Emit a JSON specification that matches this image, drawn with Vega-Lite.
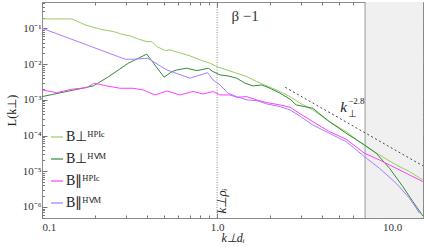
{
  "$schema": "https://vega.github.io/schema/vega-lite/v6.json",
  "width": 381,
  "height": 216,
  "autosize": {"type": "none"},
  "padding": {"left": 42, "top": 2, "right": 1, "bottom": 30},
  "config": {
    "view": {"stroke": "#8c8c8c", "strokeWidth": 1},
    "font": "Liberation Serif",
    "axis": {
      "labelFont": "Liberation Serif",
      "labelFontSize": 11,
      "labelColor": "#333",
      "titleFont": "Liberation Serif",
      "titleFontWeight": "normal",
      "titleFontSize": 12,
      "titleColor": "#222",
      "tickColor": "#777",
      "domain": false,
      "grid": false,
      "labelOverlap": false
    },
    "legend": {
      "orient": "none",
      "legendX": 8,
      "legendY": 128,
      "symbolType": "stroke",
      "symbolSize": 144,
      "symbolStrokeWidth": 1.2,
      "labelFont": "Liberation Serif",
      "labelFontSize": 14,
      "labelColor": "#222",
      "labelOffset": 2,
      "rowPadding": 8,
      "title": null
    }
  },
  "datasets": {
    "spectra": [
      {"series": "B⊥ᴴᴾᴵᶜ", "k": 0.1, "L": 0.1845},
      {"series": "B⊥ᴴᴾᴵᶜ", "k": 0.148, "L": 0.1845},
      {"series": "B⊥ᴴᴾᴵᶜ", "k": 0.177, "L": 0.1253},
      {"series": "B⊥ᴴᴾᴵᶜ", "k": 0.2155, "L": 0.095},
      {"series": "B⊥ᴴᴾᴵᶜ", "k": 0.257, "L": 0.0813},
      {"series": "B⊥ᴴᴾᴵᶜ", "k": 0.2865, "L": 0.0687},
      {"series": "B⊥ᴴᴾᴵᶜ", "k": 0.3196, "L": 0.0616},
      {"series": "B⊥ᴴᴾᴵᶜ", "k": 0.357, "L": 0.0498},
      {"series": "B⊥ᴴᴾᴵᶜ", "k": 0.398, "L": 0.0427},
      {"series": "B⊥ᴴᴾᴵᶜ", "k": 0.4254, "L": 0.0427},
      {"series": "B⊥ᴴᴾᴵᶜ", "k": 0.454, "L": 0.0309},
      {"series": "B⊥ᴴᴾᴵᶜ", "k": 0.507, "L": 0.0239},
      {"series": "B⊥ᴴᴾᴵᶜ", "k": 0.539, "L": 0.025},
      {"series": "B⊥ᴴᴾᴵᶜ", "k": 0.701, "L": 0.017},
      {"series": "B⊥ᴴᴾᴵᶜ", "k": 0.8, "L": 0.0131},
      {"series": "B⊥ᴴᴾᴵᶜ", "k": 0.912, "L": 0.0106},
      {"series": "B⊥ᴴᴾᴵᶜ", "k": 0.996, "L": 0.0085},
      {"series": "B⊥ᴴᴾᴵᶜ", "k": 1.136, "L": 0.00689},
      {"series": "B⊥ᴴᴾᴵᶜ", "k": 1.296, "L": 0.00556},
      {"series": "B⊥ᴴᴾᴵᶜ", "k": 1.479, "L": 0.00447},
      {"series": "B⊥ᴴᴾᴵᶜ", "k": 1.686, "L": 0.00324},
      {"series": "B⊥ᴴᴾᴵᶜ", "k": 2.008, "L": 0.002256},
      {"series": "B⊥ᴴᴾᴵᶜ", "k": 2.29, "L": 0.001698},
      {"series": "B⊥ᴴᴾᴵᶜ", "k": 2.612, "L": 0.00123},
      {"series": "B⊥ᴴᴾᴵᶜ", "k": 2.98, "L": 0.000804},
      {"series": "B⊥ᴴᴾᴵᶜ", "k": 3.52, "L": 0.000521},
      {"series": "B⊥ᴴᴾᴵᶜ", "k": 4.38, "L": 0.000245},
      {"series": "B⊥ᴴᴾᴵᶜ", "k": 5.46, "L": 0.000129},
      {"series": "B⊥ᴴᴾᴵᶜ", "k": 6.95, "L": 0.0000521},
      {"series": "B⊥ᴴᴾᴵᶜ", "k": 8.46, "L": 0.0000286},
      {"series": "B⊥ᴴᴾᴵᶜ", "k": 10.54, "L": 0.000015},
      {"series": "B⊥ᴴᴾᴵᶜ", "k": 12.56, "L": 0.00000975},
      {"series": "B⊥ᴴᴾᴵᶜ", "k": 14.97, "L": 0.00000571},

      {"series": "B⊥ᴴⱽᴹ", "k": 0.1, "L": 0.00123},
      {"series": "B⊥ᴴⱽᴹ", "k": 0.1965, "L": 0.00245},
      {"series": "B⊥ᴴⱽᴹ", "k": 0.2405, "L": 0.00447},
      {"series": "B⊥ᴴⱽᴹ", "k": 0.311, "L": 0.0106},
      {"series": "B⊥ᴴⱽᴹ", "k": 0.3965, "L": 0.0191},
      {"series": "B⊥ᴴⱽᴹ", "k": 0.498, "L": 0.0043},
      {"series": "B⊥ᴴⱽᴹ", "k": 0.553, "L": 0.00617},
      {"series": "B⊥ᴴⱽᴹ", "k": 0.589, "L": 0.00689},
      {"series": "B⊥ᴴⱽᴹ", "k": 0.671, "L": 0.00767},
      {"series": "B⊥ᴴⱽᴹ", "k": 0.766, "L": 0.00658},
      {"series": "B⊥ᴴⱽᴹ", "k": 0.891, "L": 0.00767},
      {"series": "B⊥ᴴⱽᴹ", "k": 0.948, "L": 0.00617},
      {"series": "B⊥ᴴⱽᴹ", "k": 1.04, "L": 0.00498},
      {"series": "B⊥ᴴⱽᴹ", "k": 1.156, "L": 0.00467},
      {"series": "B⊥ᴴⱽᴹ", "k": 1.296, "L": 0.00403},
      {"series": "B⊥ᴴⱽᴹ", "k": 1.445, "L": 0.00292},
      {"series": "B⊥ᴴⱽᴹ", "k": 1.606, "L": 0.00245},
      {"series": "B⊥ᴴⱽᴹ", "k": 1.8, "L": 0.00261},
      {"series": "B⊥ᴴⱽᴹ", "k": 2.008, "L": 0.00211},
      {"series": "B⊥ᴴⱽᴹ", "k": 2.29, "L": 0.00153},
      {"series": "B⊥ᴴⱽᴹ", "k": 2.612, "L": 0.00104},
      {"series": "B⊥ᴴⱽᴹ", "k": 2.83, "L": 0.00072},
      {"series": "B⊥ᴴⱽᴹ", "k": 3.52, "L": 0.000582},
      {"series": "B⊥ᴴⱽᴹ", "k": 4.38, "L": 0.000245},
      {"series": "B⊥ᴴⱽᴹ", "k": 5.46, "L": 0.000116},
      {"series": "B⊥ᴴⱽᴹ", "k": 6.95, "L": 0.0000546},
      {"series": "B⊥ᴴⱽᴹ", "k": 8.11, "L": 0.0000319},
      {"series": "B⊥ᴴⱽᴹ", "k": 9.66, "L": 0.0000121},
      {"series": "B⊥ᴴⱽᴹ", "k": 11.51, "L": 0.00000371},
      {"series": "B⊥ᴴⱽᴹ", "k": 13.13, "L": 0.00000141},
      {"series": "B⊥ᴴⱽᴹ", "k": 14.97, "L": 0.00000056},

      {"series": "B∥ᴴᴾᴵᶜ", "k": 0.1, "L": 0.00189},
      {"series": "B∥ᴴᴾᴵᶜ", "k": 0.1213, "L": 0.00159},
      {"series": "B∥ᴴᴾᴵᶜ", "k": 0.148, "L": 0.00198},
      {"series": "B∥ᴴᴾᴵᶜ", "k": 0.18, "L": 0.0022},
      {"series": "B∥ᴴᴾᴵᶜ", "k": 0.199, "L": 0.00292},
      {"series": "B∥ᴴᴾᴵᶜ", "k": 0.2344, "L": 0.00245},
      {"series": "B∥ᴴᴾᴵᶜ", "k": 0.279, "L": 0.00211},
      {"series": "B∥ᴴᴾᴵᶜ", "k": 0.331, "L": 0.00211},
      {"series": "B∥ᴴᴾᴵᶜ", "k": 0.378, "L": 0.00189},
      {"series": "B∥ᴴᴾᴵᶜ", "k": 0.4426, "L": 0.00137},
      {"series": "B∥ᴴᴾᴵᶜ", "k": 0.516, "L": 0.00177},
      {"series": "B∥ᴴᴾᴵᶜ", "k": 0.615, "L": 0.00137},
      {"series": "B∥ᴴᴾᴵᶜ", "k": 0.73, "L": 0.00172},
      {"series": "B∥ᴴᴾᴵᶜ", "k": 0.832, "L": 0.00146},
      {"series": "B∥ᴴᴾᴵᶜ", "k": 0.948, "L": 0.0017},
      {"series": "B∥ᴴᴾᴵᶜ", "k": 1.04, "L": 0.00137},
      {"series": "B∥ᴴᴾᴵᶜ", "k": 1.186, "L": 0.00137},
      {"series": "B∥ᴴᴾᴵᶜ", "k": 1.296, "L": 0.00118},
      {"series": "B∥ᴴᴾᴵᶜ", "k": 1.479, "L": 0.00123},
      {"series": "B∥ᴴᴾᴵᶜ", "k": 1.686, "L": 0.000994},
      {"series": "B∥ᴴᴾᴵᶜ", "k": 1.923, "L": 0.000836},
      {"series": "B∥ᴴᴾᴵᶜ", "k": 2.29, "L": 0.000719},
      {"series": "B∥ᴴᴾᴵᶜ", "k": 2.612, "L": 0.000621},
      {"series": "B∥ᴴᴾᴵᶜ", "k": 2.9, "L": 0.000444},
      {"series": "B∥ᴴᴾᴵᶜ", "k": 3.52, "L": 0.000245},
      {"series": "B∥ᴴᴾᴵᶜ", "k": 4.38, "L": 0.000129},
      {"series": "B∥ᴴᴾᴵᶜ", "k": 5.46, "L": 0.0000787},
      {"series": "B∥ᴴᴾᴵᶜ", "k": 6.95, "L": 0.0000319},
      {"series": "B∥ᴴᴾᴵᶜ", "k": 8.46, "L": 0.0000207},
      {"series": "B∥ᴴᴾᴵᶜ", "k": 10.54, "L": 0.0000121},
      {"series": "B∥ᴴᴾᴵᶜ", "k": 12.56, "L": 0.00000787},
      {"series": "B∥ᴴᴾᴵᶜ", "k": 14.97, "L": 0.00000512},

      {"series": "B∥ᴴⱽᴹ", "k": 0.1, "L": 0.1013},
      {"series": "B∥ᴴⱽᴹ", "k": 0.299, "L": 0.01371},
      {"series": "B∥ᴴⱽᴹ", "k": 0.334, "L": 0.01371},
      {"series": "B∥ᴴⱽᴹ", "k": 0.402, "L": 0.01462},
      {"series": "B∥ᴴⱽᴹ", "k": 0.516, "L": 0.00689},
      {"series": "B∥ᴴⱽᴹ", "k": 0.701, "L": 0.00403},
      {"series": "B∥ᴴⱽᴹ", "k": 0.883, "L": 0.00578},
      {"series": "B∥ᴴⱽᴹ", "k": 0.948, "L": 0.00361},
      {"series": "B∥ᴴⱽᴹ", "k": 1.04, "L": 0.00261},
      {"series": "B∥ᴴⱽᴹ", "k": 1.156, "L": 0.00153},
      {"series": "B∥ᴴⱽᴹ", "k": 1.296, "L": 0.00123},
      {"series": "B∥ᴴⱽᴹ", "k": 1.479, "L": 0.000994},
      {"series": "B∥ᴴⱽᴹ", "k": 1.686, "L": 0.00095},
      {"series": "B∥ᴴⱽᴹ", "k": 1.923, "L": 0.000768},
      {"series": "B∥ᴴⱽᴹ", "k": 2.29, "L": 0.000646},
      {"series": "B∥ᴴⱽᴹ", "k": 2.612, "L": 0.000521},
      {"series": "B∥ᴴⱽᴹ", "k": 2.9, "L": 0.000378},
      {"series": "B∥ᴴⱽᴹ", "k": 3.52, "L": 0.000198},
      {"series": "B∥ᴴⱽᴹ", "k": 4.38, "L": 0.000116},
      {"series": "B∥ᴴⱽᴹ", "k": 5.46, "L": 0.0000675},
      {"series": "B∥ᴴⱽᴹ", "k": 6.95, "L": 0.0000256},
      {"series": "B∥ᴴⱽᴹ", "k": 8.46, "L": 0.0000121},
      {"series": "B∥ᴴⱽᴹ", "k": 10.54, "L": 0.00000461},
      {"series": "B∥ᴴⱽᴹ", "k": 12.56, "L": 0.00000175},
      {"series": "B∥ᴴⱽᴹ", "k": 14.32, "L": 0.00000067}
    ],
    "fit": [
      {"k": 2.45, "L": 0.00225},
      {"k": 15, "L": 0.0000141}
    ],
    "shade": [
      {"from": 7, "to": 15}
    ],
    "one": [{}]
  },
  "layer": [
    {
      "data": {"name": "shade"},
      "mark": {"type": "rect", "color": "#f0f0f0"},
      "encoding": {
        "x": {"field": "from", "type": "quantitative", "scale": {"type": "log", "domain": [0.1, 15]}, "axis": null},
        "x2": {"field": "to"}
      }
    },
    {
      "data": {"name": "shade"},
      "mark": {"type": "rule", "color": "#999999", "strokeWidth": 1},
      "encoding": {
        "x": {"field": "from", "type": "quantitative", "scale": {"type": "log", "domain": [0.1, 15]}, "axis": null}
      }
    },
    {
      "data": {"name": "one"},
      "mark": {"type": "rule", "color": "#888888", "strokeWidth": 1, "strokeDash": [1, 1.5]},
      "encoding": {
        "x": {"datum": 1, "type": "quantitative", "scale": {"type": "log", "domain": [0.1, 15]}, "axis": null}
      }
    },
    {
      "data": {"name": "spectra"},
      "mark": {"type": "line", "strokeWidth": 1, "clip": true},
      "encoding": {
        "x": {
          "field": "k", "type": "quantitative",
          "scale": {"type": "log", "domain": [0.1, 15]},
          "axis": {
            "orient": "bottom",
            "values": [0.1, 0.2, 0.3, 0.4, 0.5, 0.6, 0.7, 0.8, 0.9, 1, 2, 3, 4, 5, 6, 7, 8, 9, 10],
            "labelExpr": "datum.value == 0.1 ? '0.1' : datum.value == 1 ? '1.0' : datum.value == 10 ? '10.0' : ''",
            "tickSize": {"condition": {"test": "datum.value == 0.1 || datum.value == 1 || datum.value == 10", "value": -5}, "value": -3},
            "labelPadding": 8,
            "title": "k⊥dᵢ",
            "titleFontStyle": "italic",
            "titlePadding": -2
          }
        },
        "y": {
          "field": "L", "type": "quantitative",
          "scale": {"type": "log", "domain": [0.00000049, 0.55]},
          "axis": {
            "orient": "left",
            "values": [0.0000005, 0.0000006, 0.0000007, 0.0000008, 0.0000009, 0.000001, 0.000002, 0.000003, 0.000004, 0.000005, 0.000006, 0.000007, 0.000008, 0.000009, 0.00001, 0.00002, 0.00003, 0.00004, 0.00005, 0.00006, 0.00007, 0.00008, 0.00009, 0.0001, 0.0002, 0.0003, 0.0004, 0.0005, 0.0006, 0.0007, 0.0008, 0.0009, 0.001, 0.002, 0.003, 0.004, 0.005, 0.006, 0.007, 0.008, 0.009, 0.01, 0.02, 0.03, 0.04, 0.05, 0.06, 0.07, 0.08, 0.09, 0.1, 0.2, 0.3, 0.4, 0.5],
            "labelExpr": "datum.value == 0.1 ? '10⁻¹' : datum.value == 0.01 ? '10⁻²' : datum.value == 0.001 ? '10⁻³' : datum.value == 0.0001 ? '10⁻⁴' : datum.value == 0.00001 ? '10⁻⁵' : datum.value == 0.000001 ? '10⁻⁶' : ''",
            "tickSize": {"condition": {"test": "datum.value == 0.1 || datum.value == 0.01 || datum.value == 0.001 || datum.value == 0.0001 || datum.value == 0.00001 || datum.value == 0.000001", "value": -5}, "value": -2.5},
            "labelPadding": 6,
            "title": "L(k⊥)",
            "titlePadding": 4
          }
        },
        "color": {
          "field": "series", "type": "nominal",
          "scale": {
            "domain": ["B⊥ᴴᴾᴵᶜ", "B⊥ᴴⱽᴹ", "B∥ᴴᴾᴵᶜ", "B∥ᴴⱽᴹ"],
            "range": ["#9ccc65", "#2e8b3a", "#ff40ff", "#a97cff"]
          },
          "legend": {}
        }
      }
    },
    {
      "data": {"name": "fit"},
      "mark": {"type": "line", "color": "#333333", "strokeWidth": 0.9, "strokeDash": [2, 2.5], "clip": true},
      "encoding": {
        "x": {
          "field": "k", "type": "quantitative",
          "scale": {"type": "log", "domain": [0.1, 15]},
          "axis": {
            "orient": "top", "labels": false, "title": null,
            "values": [0.1, 0.2, 0.3, 0.4, 0.5, 0.6, 0.7, 0.8, 0.9, 1, 2, 3, 4, 5, 6, 7, 8, 9, 10],
            "tickSize": {"condition": {"test": "datum.value == 0.1 || datum.value == 1 || datum.value == 10", "value": -5}, "value": -3}
          }
        },
        "y": {
          "field": "L", "type": "quantitative",
          "scale": {"type": "log", "domain": [0.00000049, 0.55]},
          "axis": {
            "orient": "right", "labels": false, "title": null,
            "values": [0.0000005, 0.0000006, 0.0000007, 0.0000008, 0.0000009, 0.000001, 0.000002, 0.000003, 0.000004, 0.000005, 0.000006, 0.000007, 0.000008, 0.000009, 0.00001, 0.00002, 0.00003, 0.00004, 0.00005, 0.00006, 0.00007, 0.00008, 0.00009, 0.0001, 0.0002, 0.0003, 0.0004, 0.0005, 0.0006, 0.0007, 0.0008, 0.0009, 0.001, 0.002, 0.003, 0.004, 0.005, 0.006, 0.007, 0.008, 0.009, 0.01, 0.02, 0.03, 0.04, 0.05, 0.06, 0.07, 0.08, 0.09, 0.1, 0.2, 0.3, 0.4, 0.5],
            "tickSize": {"condition": {"test": "datum.value == 0.1 || datum.value == 0.01 || datum.value == 0.001 || datum.value == 0.0001 || datum.value == 0.00001 || datum.value == 0.000001", "value": -5}, "value": -2.5}
          }
        }
      }
    },
    {
      "data": {"name": "one"},
      "mark": {"type": "text", "text": "β −1", "font": "Liberation Serif", "fontSize": 15, "color": "#333", "align": "center", "baseline": "middle"},
      "encoding": {
        "x": {"datum": 1.445, "type": "quantitative", "scale": {"type": "log", "domain": [0.1, 15]}, "axis": null},
        "y": {"datum": 0.224, "type": "quantitative", "scale": {"type": "log", "domain": [0.00000049, 0.55]}, "axis": null}
      }
    },
    {
      "data": {"name": "one"},
      "mark": {"type": "text", "text": "k⊥ρᵢ", "font": "Liberation Serif", "fontSize": 13, "fontStyle": "italic", "color": "#222", "align": "center", "baseline": "middle", "angle": 270},
      "encoding": {
        "x": {"datum": 1.068, "type": "quantitative", "scale": {"type": "log", "domain": [0.1, 15]}, "axis": null},
        "y": {"datum": 0.00000148, "type": "quantitative", "scale": {"type": "log", "domain": [0.00000049, 0.55]}, "axis": null}
      }
    },
    {
      "data": {"name": "one"},
      "mark": {"type": "text", "text": "k", "font": "Liberation Serif", "fontSize": 15, "fontStyle": "italic", "color": "#222", "align": "left", "baseline": "alphabetic"},
      "encoding": {
        "x": {"datum": 5.05, "type": "quantitative", "scale": {"type": "log", "domain": [0.1, 15]}, "axis": null},
        "y": {"datum": 0.00047, "type": "quantitative", "scale": {"type": "log", "domain": [0.00000049, 0.55]}, "axis": null}
      }
    },
    {
      "data": {"name": "one"},
      "mark": {"type": "text", "text": "⊥", "font": "Liberation Serif", "fontSize": 10, "color": "#222", "align": "left", "baseline": "alphabetic", "dx": 8, "dy": 5},
      "encoding": {
        "x": {"datum": 5.05, "type": "quantitative", "scale": {"type": "log", "domain": [0.1, 15]}, "axis": null},
        "y": {"datum": 0.00047, "type": "quantitative", "scale": {"type": "log", "domain": [0.00000049, 0.55]}, "axis": null}
      }
    },
    {
      "data": {"name": "one"},
      "mark": {"type": "text", "text": "−2.8", "font": "Liberation Serif", "fontSize": 9, "color": "#222", "align": "left", "baseline": "alphabetic", "dx": 8, "dy": -8},
      "encoding": {
        "x": {"datum": 5.05, "type": "quantitative", "scale": {"type": "log", "domain": [0.1, 15]}, "axis": null},
        "y": {"datum": 0.00047, "type": "quantitative", "scale": {"type": "log", "domain": [0.00000049, 0.55]}, "axis": null}
      }
    }
  ],
  "resolve": {"axis": {"x": "independent", "y": "independent"}}
}
